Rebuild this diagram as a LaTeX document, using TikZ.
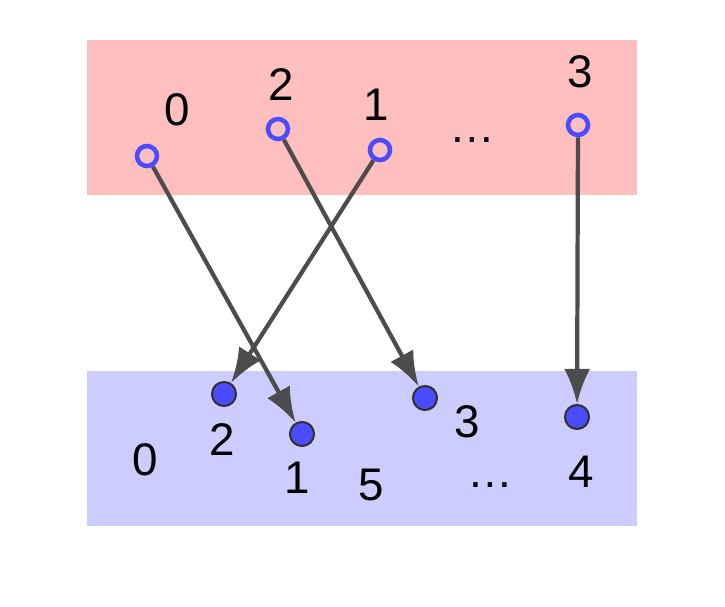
\documentclass[tikz,border=0pt]{standalone}
\usepackage{fontspec}
\setmainfont{Liberation Sans}
\usetikzlibrary{arrows.meta}
\tikzset{
	every path/.style = {line width=1.2pt},
	src/.style = {circle, draw=blue!70, fill=pink, line width=1.3pt, inner sep=0pt, minimum size=0.2cm},
	dst/.style = {circle, draw=black!80, fill=blue!70, line width=0.6pt, inner sep=0pt, minimum size=0.24cm},
	lbl/.style = {font=\fontsize{13}{15}\selectfont}
}
\begin{document}
\begin{tikzpicture}[x=0.01cm,y=-0.01cm,-{Latex[length=3.5mm,width=2.6mm]}]
	\useasboundingbox (0,0) rectangle (725,607);
	\fill[pink] (87,40) rectangle (637,195);
	\fill[blue!20] (87,371) rectangle (637,526);
	% top row
	\node[src] (t0) at (147,156) {};
	\node[src] (t2) at (278,129) {};
	\node[src] (t1) at (380,150) {};
	\node[src] (t3) at (578,125) {};
	\node[lbl] at (177,110) {0};
	\node[lbl] at (281,85) {2};
	\node[lbl] at (376,105) {1};
	\node[lbl] at (580,72) {3};
	\node[lbl] at (472,140) {\dots};
	% bottom row
	\node[dst] (b2) at (224,394) {};
	\node[dst] (b1) at (302,434) {};
	\node[dst] (b3) at (425,398) {};
	\node[dst] (b4) at (577,417) {};
	\node[lbl] at (222,440) {2};
	\node[lbl] at (297,478) {1};
	\node[lbl] at (467,422) {3};
	\node[lbl] at (581,472) {4};
	\node[lbl] at (145,460) {0};
	\node[lbl] at (371,485) {5};
	\node[lbl] at (490,485) {\dots};
	\begin{scope}[draw=black!70, line width=2pt]
		\draw (t0) -- (b1);
		\draw (t2) -- (b3);
		\draw (t1) -- (b2);
		\draw (t3) -- (b4);
	\end{scope}
\end{tikzpicture}
\end{document}
